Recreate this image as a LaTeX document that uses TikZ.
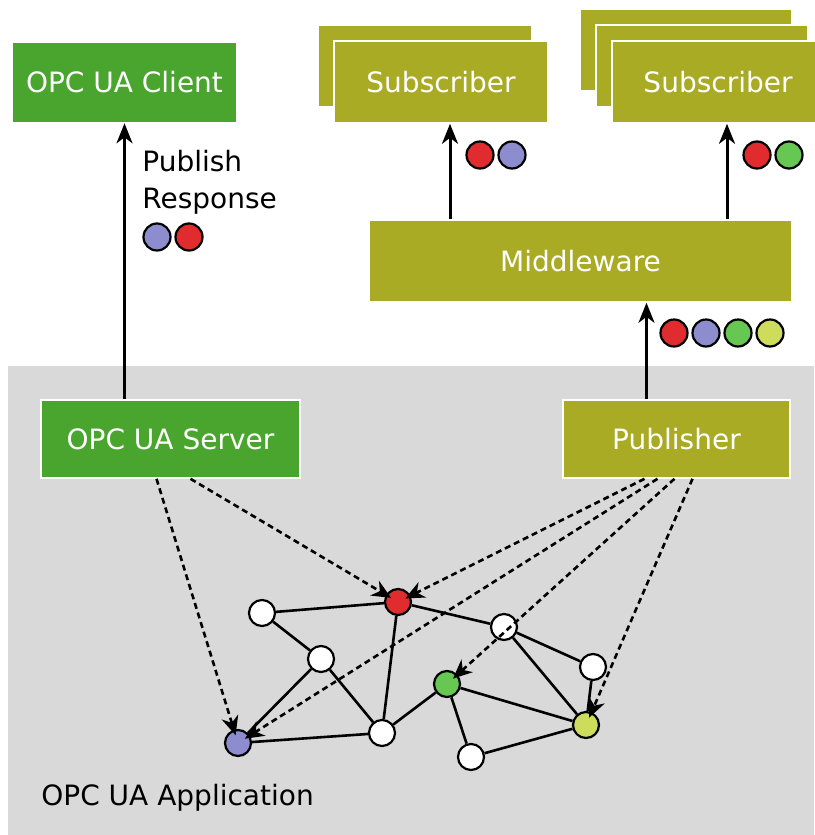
\documentclass[tikz,border=0pt]{standalone}
\usepackage{fontspec}
\setmainfont{DejaVu Sans}
\usetikzlibrary{shapes,arrows,arrows.meta,calc}
\definecolor{opcgreen}{RGB}{74,165,46}
\definecolor{psolive}{RGB}{169,171,37}
\definecolor{appgray}{RGB}{217,217,217}
\definecolor{tokred}{RGB}{224,44,46}
\definecolor{tokblue}{RGB}{140,140,206}
\definecolor{tokgreen}{RGB}{102,200,82}
\definecolor{tokyellow}{RGB}{206,220,92}
\tikzstyle{opc}=[rectangle,
                 draw=white,
                 thick,
                 fill=opcgreen,
                 text=white]
\tikzstyle{pubsub}=[rectangle,
                    draw=white,
                    thick,
                    fill=psolive,
                    text=white]
\tikzstyle{dot}=[circle,
                 draw=black,
                 line width=1.1pt,
                 minimum size=13.5pt,
                 inner sep=0pt]
\tikzstyle{vertex}=[circle,
                    draw=black,
                    line width=1.1pt,
                    fill=white,
                    minimum size=13pt,
                    inner sep=0pt]
\tikzstyle{flow}=[-{Stealth[length=10pt, width=8pt, inset=3pt]}, line width=1.5pt]
\tikzstyle{link}=[line width=1.3pt]
\tikzstyle{ref}=[-{Stealth[length=9.5pt, width=8.5pt, inset=3pt]}, line width=1.3pt, dash pattern=on 3pt off 2pt, shorten >=-3pt]

\begin{document}
\begin{tikzpicture}[x=0.5pt, y=-0.5pt, font=\fontsize{14}{18.5}\selectfont]
    \useasboundingbox (0,0) rectangle (814,835);
    \fill[appgray] (8,366) rectangle (814,835);
    % boxes
    \node[opc, minimum width=112.5pt, minimum height=40pt] (client) at (124.5,82.5) {OPC UA Client};
    \node[pubsub, minimum width=107pt, minimum height=41pt] (subAback) at (425,66) {};
    \node[pubsub, minimum width=107pt, minimum height=41pt] (subA) at (441,82) {Subscriber};
    \node[pubsub, minimum width=106pt, minimum height=41pt] (subBback) at (686,50) {};
    \node[pubsub, minimum width=106pt, minimum height=41pt] (subBmid) at (702,66) {};
    \node[pubsub, minimum width=106pt, minimum height=41pt] (subB) at (718,82) {Subscriber};
    \node[pubsub, minimum width=211.5pt, minimum height=41pt] (mw) at (580.5,261) {Middleware};
    \node[pubsub, minimum width=113.5pt, minimum height=39pt] (pub) at (676.5,439) {Publisher};
    \node[opc, minimum width=129.5pt, minimum height=39pt] (server) at (170.5,439) {OPC UA Server};
    \node[anchor=north west, align=left, inner sep=0pt] (resp) at (142,150) {Publish\\Response};
    \node[anchor=base west, inner sep=0pt] (app) at (41,805) {OPC UA Application};

    % messages
    \node[dot, fill=tokblue] (resp1) at (157,237) {};
    \node[dot, fill=tokred] (resp2) at (189,237) {};
    \node[dot, fill=tokred] (subA1) at (480,155) {};
    \node[dot, fill=tokblue] (subA2) at (512,155) {};
    \node[dot, fill=tokred] (subB1) at (757,155) {};
    \node[dot, fill=tokgreen] (subB2) at (789,155) {};
    \foreach \c [count=\i] in {tokred,tokblue,tokgreen,tokyellow}
        \node[dot, fill=\c] (mw\i) at (642+32*\i,333) {};

    \draw[flow] (client.south |- server.north) -- (client.south);
    \draw[flow] ([xshift=-15pt]pub.north) -- ([xshift=-15pt]pub.north |- mw.south);
    \draw[flow] ([xshift=4.5pt]subA.south |- mw.north) -- ([xshift=4.5pt]subA.south);
    \draw[flow] ([xshift=4.5pt]subB.south |- mw.north) -- ([xshift=4.5pt]subB.south);

    % address space
    \node[vertex] (w1) at (262,613) {};
    \node[vertex] (w2) at (321,659) {};
    \node[vertex] (w3) at (382,733) {};
    \node[vertex] (w4) at (504,627) {};
    \node[vertex] (w5) at (593,667) {};
    \node[vertex] (w6) at (471,757) {};
    \node[vertex, fill=tokred] (vred) at (398,602) {};
    \node[vertex, fill=tokblue] (vblue) at (238,743) {};
    \node[vertex, fill=tokgreen] (vgreen) at (447,684) {};
    \node[vertex, fill=tokyellow] (vyellow) at (586,725) {};
    \foreach \a/\b in {w1/vred, w1/w2, w2/vblue, w2/w3, vred/w3, vred/w4, vblue/w3,
                       w3/vgreen, vgreen/w6, vgreen/vyellow, w4/w5, w4/vyellow,
                       w5/vyellow, w6/vyellow}
        \draw[link] (\a) -- (\b);

    \draw[ref] ([xshift=-7pt]server.south) -- (vblue);
    \draw[ref] ([xshift=10pt]server.south) -- (vred);
    \draw[ref] ([xshift=-16pt]pub.south) -- (vred);
    \draw[ref] ([xshift=-9.5pt]pub.south) -- (vblue);
    \draw[ref] ([xshift=-1pt]pub.south) -- (vgreen);
    \draw[ref] ([xshift=8pt]pub.south) -- (vyellow);
\end{tikzpicture}
\end{document}
